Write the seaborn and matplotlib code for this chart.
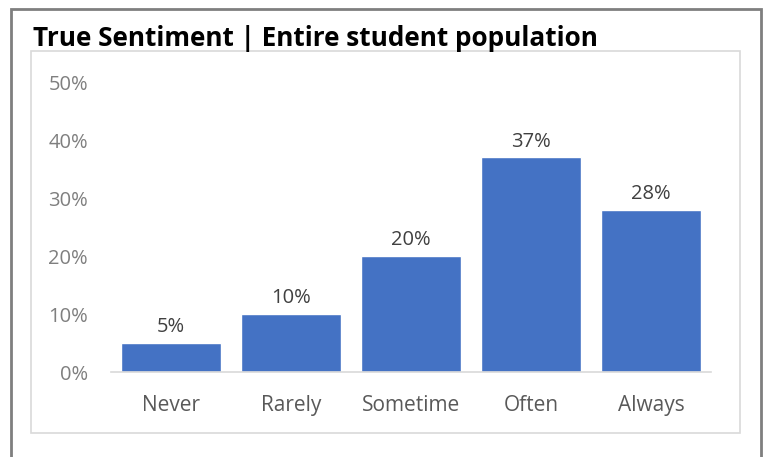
import matplotlib
matplotlib.use("Agg")
import matplotlib.pyplot as plt
import seaborn as sns
import pandas as pd
from matplotlib.patches import Rectangle
from matplotlib.ticker import PercentFormatter

categories = ["Never", "Rarely", "Sometime", "Often", "Always"]
values = [0.05, 0.10, 0.20, 0.37, 0.28]
value_labels = ["5%", "10%", "20%", "37%", "28%"]
title = "True Sentiment | Entire student population"

sns.set_theme(style="white")
plt.rcParams["font.family"] = ["Open Sans", "DejaVu Sans"]

W, H = 767, 457
fig = plt.figure(figsize=(W / 100, H / 100), dpi=100)
fig.patch.set_facecolor("white")

def fx(px):
    return px / W

def fy(py):
    return 1 - py / H

ax = fig.add_axes([fx(111), fy(372), fx(711) - fx(111), fy(82) - fy(372)])
df = pd.DataFrame({"cat": categories, "val": values})
sns.barplot(data=df, x="cat", y="val", color="#4472C4", width=0.833,
            saturation=1, ax=ax)
ax.set_xlim(-0.5, 4.5)
ax.set_ylim(0, 0.5)
ax.set_yticks([0, 0.1, 0.2, 0.3, 0.4, 0.5])
ax.yaxis.set_major_formatter(PercentFormatter(1.0, decimals=0))
ax.set_xlabel("")
ax.set_ylabel("")
for s in ["top", "right", "left"]:
    ax.spines[s].set_visible(False)
ax.spines["bottom"].set_color("#D9D9D9")
ax.spines["bottom"].set_linewidth(1.2)
ax.tick_params(axis="y", length=0, pad=16.5, labelsize=14.5, labelcolor="#7F7F7F")
ax.tick_params(axis="x", length=0, pad=16.5, labelsize=15, labelcolor="#595959")

for i, (v, lab) in enumerate(zip(values, value_labels)):
    ax.text(i, v + 0.01, lab, ha="center", va="bottom", fontsize=14.5,
            color="#404040")

# outer frame
fig.add_artist(Rectangle((fx(11), fy(470)), fx(761) - fx(11), fy(9) - fy(470),
                         transform=fig.transFigure, fill=False,
                         edgecolor="#7F7F7F", linewidth=2, clip_on=False))
# inner chart area box
fig.add_artist(Rectangle((fx(31), fy(433)), fx(740) - fx(31), fy(51) - fy(433),
                         transform=fig.transFigure, fill=False,
                         edgecolor="#D9D9D9", linewidth=1.2))

fig.text(fx(33), fy(46), title, ha="left", va="baseline", fontsize=18.8,
         fontweight="bold", color="black",
         family=["Open Sans", "DejaVu Sans"])

fig.savefig("out.png", dpi=100, facecolor="white")
